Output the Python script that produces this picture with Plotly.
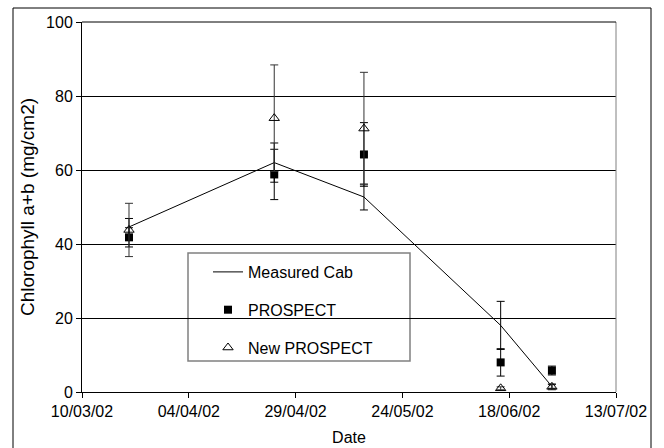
import plotly.graph_objects as go

dates = ["2002-03-21", "2002-04-24", "2002-05-15", "2002-06-16", "2002-06-28"]
measured = [44.6, 62.0, 52.7, 18.0, 1.5]
measured_err = [2.3, 5.3, 3.5, 6.5, 0.5]
prospect = [41.8, 58.8, 64.2, 8.0, 5.8]
prospect_err = [2.6, 6.8, 8.6, 3.7, 1.2]
new_prospect = [43.8, 74.0, 71.2, 1.0, 1.4]
new_prospect_err = [7.2, 14.4, 15.2, 0.4, 0.8]

tick_vals = ["2002-03-10", "2002-04-04", "2002-04-29", "2002-05-24", "2002-06-18", "2002-07-13"]
tick_text = ["10/03/02", "04/04/02", "29/04/02", "24/05/02", "18/06/02", "13/07/02"]
y_ticks = [0, 20, 40, 60, 80, 100]

FONT = "Liberation Sans, Arial, sans-serif"

fig = go.Figure()
fig.add_trace(go.Scatter(
    x=dates, y=measured, mode="lines", name="Measured Cab",
    line=dict(color="black", width=1),
    error_y=dict(type="data", array=measured_err, color="black", thickness=1, width=4),
    legendgroup="a",
))
fig.add_trace(go.Scatter(
    x=dates, y=prospect, mode="markers", name="PROSPECT",
    marker=dict(symbol="square", size=8, color="black"),
    error_y=dict(type="data", array=prospect_err, color="black", thickness=1, width=4),
    legendgroup="b",
))
fig.add_trace(go.Scatter(
    x=dates, y=new_prospect, mode="markers", name="New PROSPECT",
    marker=dict(symbol="triangle-up-open", size=9, color="black", line=dict(width=1, color="black")),
    error_y=dict(type="data", array=new_prospect_err, color="#333333", thickness=1, width=4),
    legendgroup="c",
))

L, R, T, B = 82, 48, 22, 56
W, H = 664, 448
pw, ph = W - L - R, H - T - B

def px(xp):
    return (xp - L) / pw

def py(yp):
    return (H - B - yp) / ph

shapes = [
    # outer chart border
    dict(type="rect", xref="paper", yref="paper", x0=px(13), x1=px(651), y0=py(450), y1=py(8),
         line=dict(color="black", width=1), fillcolor="rgba(0,0,0,0)", layer="below"),
    # plot area right frame
    dict(type="line", xref="paper", yref="paper", x0=1, x1=1, y0=0, y1=1,
         line=dict(color="#808080", width=1)),
    # top gridline at 100
    dict(type="line", xref="paper", yref="paper", x0=0, x1=1, y0=1, y1=1,
         line=dict(color="black", width=1)),
    # legend box
    dict(type="rect", xref="paper", yref="paper", x0=px(188), x1=px(410), y0=py(361), y1=py(253),
         line=dict(color="#808080", width=1.5), fillcolor="white", layer="below"),
]

fig.update_layout(
    width=W, height=H,
    margin=dict(l=L, r=R, t=T, b=B, autoexpand=False),
    paper_bgcolor="white", plot_bgcolor="white",
    font=dict(family=FONT, size=16, color="black"),
    showlegend=True,
    legend=dict(
        x=px(208), y=py(255), xanchor="left", yanchor="top",
        bgcolor="rgba(0,0,0,0)", borderwidth=0,
        traceorder="grouped", tracegroupgap=14,
        font=dict(family=FONT, size=16, color="black"),
        itemwidth=30,
    ),
    shapes=shapes,
    xaxis=dict(
        type="date", automargin=False,
        range=["2002-03-10", "2002-07-13"],
        tickvals=tick_vals, ticktext=tick_text,
        ticks="outside", ticklen=5, tickcolor="black",
        showgrid=False, zeroline=False,
        showline=True, linecolor="black", linewidth=1,
        title=dict(text="Date", font=dict(size=16), standoff=12),
        tickfont=dict(size=16),
    ),
    yaxis=dict(
        range=[0, 100], tickvals=y_ticks, automargin=False,
        ticks="outside", ticklen=5, tickcolor="black",
        showgrid=True, gridcolor="black", gridwidth=1,
        zeroline=False,
        showline=True, linecolor="black", linewidth=1,
        title=dict(text="Chlorophyll a+b (mg/cm2)", font=dict(size=19), standoff=6),
        tickfont=dict(size=16),
    ),
)

fig.write_html("out.html")
